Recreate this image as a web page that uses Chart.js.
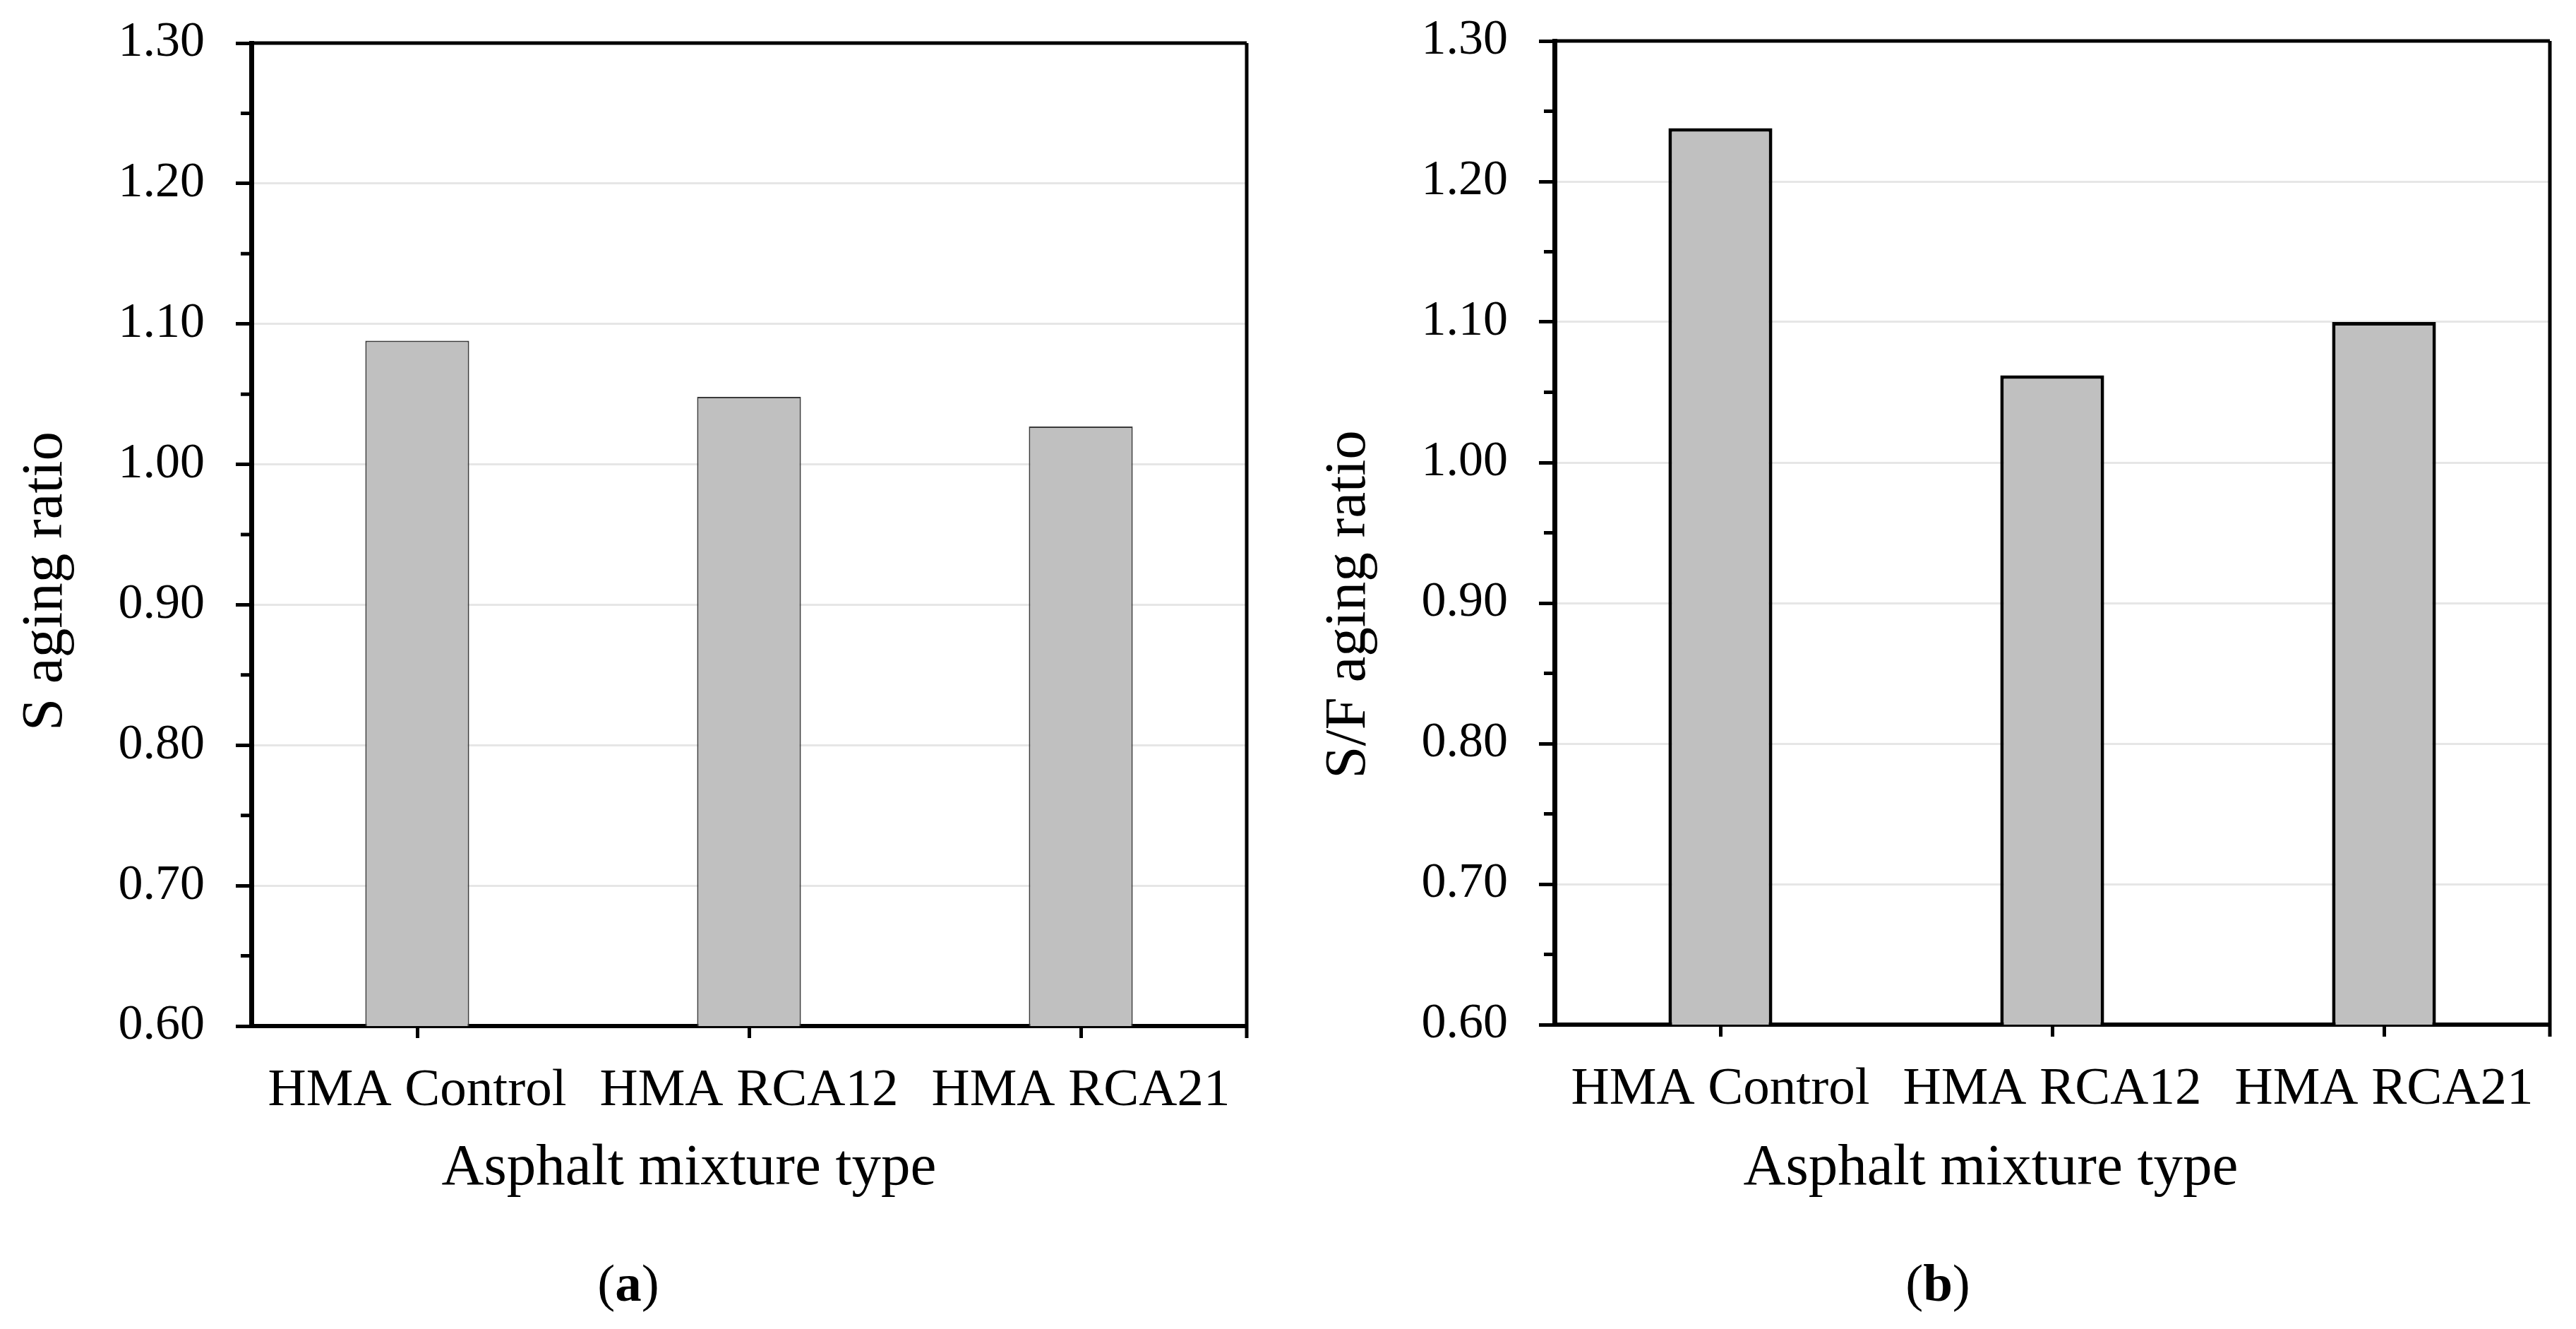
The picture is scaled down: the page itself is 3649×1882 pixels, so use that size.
<!DOCTYPE html>
<html>
<head>
<meta charset="utf-8">
<script src="https://cdn.jsdelivr.net/npm/chart.js@4.4.1/dist/chart.umd.min.js"></script>
<style>
  html, body { margin: 0; padding: 0; background: #fff; }
  body { width: 3649px; height: 1882px; position: relative; overflow: hidden; }
  canvas { position: absolute; top: 0; }
  #chartA { left: 0; }
  #chartB { left: 1824px; }
</style>
</head>
<body>
<canvas id="chartA" width="1824" height="1882"></canvas>
<canvas id="chartB" width="1825" height="1882"></canvas>
<script>
const categories = ["HMA Control", "HMA RCA12", "HMA RCA21"];
const sAgingRatio = [1.088, 1.048, 1.027];
const sfAgingRatio = [1.238, 1.062, 1.100];
const yTicks = [0.60, 0.70, 0.80, 0.90, 1.00, 1.10, 1.20, 1.30];
const yMinorTicks = [0.65, 0.75, 0.85, 0.95, 1.05, 1.15, 1.25];

const FONT = "'Times New Roman', 'Liberation Serif', serif";

// frame, minor ticks, axis titles and panel letter
const framePlugin = {
  id: "frame",
  afterDatasetsDraw(chart, args, opts) {
    const { ctx, chartArea: a } = chart;
    const y = chart.scales.y;
    ctx.save();
    ctx.strokeStyle = "#000";
    ctx.lineWidth = 5;
    ctx.beginPath();
    ctx.moveTo(a.left, a.top);
    ctx.lineTo(a.right, a.top);
    ctx.moveTo(a.right, a.top);
    ctx.lineTo(a.right, a.bottom + 17);
    yMinorTicks.forEach(v => {
      const py = y.getPixelForValue(v);
      ctx.moveTo(a.left - 15, py);
      ctx.lineTo(a.left, py);
    });
    ctx.stroke();

    ctx.fillStyle = "#000";
    ctx.font = `83px ${FONT}`;
    ctx.textAlign = "center";
    ctx.textBaseline = "alphabetic";
    ctx.fillText(opts.xTitle, opts.xTitleX, opts.xTitleY);

    ctx.save();
    ctx.translate(opts.yTitleX, opts.yTitleY);
    ctx.rotate(-Math.PI / 2);
    ctx.fillText(opts.yTitle, 0, 0);
    ctx.restore();

    // "(a)" with bold letter
    ctx.textAlign = "left";
    const reg = `75px ${FONT}`;
    const bold = `bold 75px ${FONT}`;
    ctx.font = reg;
    const wo = ctx.measureText("(").width;
    const wc = ctx.measureText(")").width;
    ctx.font = bold;
    const wl = ctx.measureText(opts.letter).width;
    let x = opts.letterX - (wo + wl + wc) / 2;
    ctx.font = reg;
    ctx.fillText("(", x, opts.letterY);
    x += wo;
    ctx.font = bold;
    ctx.fillText(opts.letter, x, opts.letterY);
    x += wl;
    ctx.font = reg;
    ctx.fillText(")", x, opts.letterY);
    ctx.restore();
  }
};

function makeChart(id, values, cfg) {
  const ctx = document.getElementById(id).getContext("2d");
  return new Chart(ctx, {
    type: "bar",
    data: {
      labels: categories,
      datasets: [{
        data: values,
        backgroundColor: "#c0c0c0",
        borderColor: cfg.barBorderColor,
        borderWidth: cfg.barBorderWidth,
        barPercentage: 0.313,
        categoryPercentage: 1.0,
      }],
    },
    options: {
      responsive: false,
      devicePixelRatio: 1,
      animation: false,
      layout: { padding: { left: 0, top: cfg.top, right: cfg.right, bottom: 0 } },
      plugins: {
        legend: { display: false },
        tooltip: { enabled: false },
        frame: cfg.text,
      },
      scales: {
        x: {
          grid: {
            display: true,
            drawOnChartArea: false,
            offset: false,
            tickLength: 17,
            tickColor: "#000",
            tickWidth: 5,
          },
          border: { display: true, color: "#000", width: 6 },
          ticks: {
            color: "#000",
            font: { family: FONT, size: 75 },
            padding: 30,
            maxRotation: 0,
          },
          afterFit(scale) { scale.height = cfg.xHeight; },
        },
        y: {
          min: yTicks[0],
          max: yTicks[yTicks.length - 1],
          afterBuildTicks(scale) { scale.ticks = yTicks.map(value => ({ value })); },
          grid: {
            color: c => (c.tick && (c.tick.value === yTicks[0] || c.tick.value === yTicks[yTicks.length - 1])) ? "rgba(0,0,0,0)" : "#e6e6e6",
            lineWidth: 3,
            tickLength: 22,
            tickColor: "#000",
            tickWidth: 5,
          },
          border: { display: true, color: "#000", width: 7 },
          ticks: {
            color: "#000",
            font: { family: FONT, size: 70 },
            padding: 44,
            callback: v => Number(v).toFixed(2),
          },
          afterFit(scale) {
            scale.width = cfg.yWidth;
            scale.paddingTop = 20;
            scale.paddingBottom = 20;
          },
        },
      },
    },
    plugins: [framePlugin],
  });
}

makeChart("chartA", sAgingRatio, {
  barBorderColor: "#3a3a3a",
  barBorderWidth: 2,
  top: 61,
  right: 58,
  xHeight: 429,
  yWidth: 356,
  text: {
    xTitle: "Asphalt mixture type", xTitleX: 976, xTitleY: 1677,
    yTitle: "S aging ratio", yTitleX: 87, yTitleY: 823,
    letter: "a", letterX: 890, letterY: 1842,
  },
});

makeChart("chartB", sfAgingRatio, {
  barBorderColor: "#000",
  barBorderWidth: 5,
  top: 58,
  right: 37,
  xHeight: 431,
  yWidth: 378,
  text: {
    xTitle: "Asphalt mixture type", xTitleX: 996, xTitleY: 1677,
    yTitle: "S/F aging ratio", yTitleX: 109, yTitleY: 856,
    letter: "b", letterX: 921, letterY: 1842,
  },
});
</script>
</body>
</html>
